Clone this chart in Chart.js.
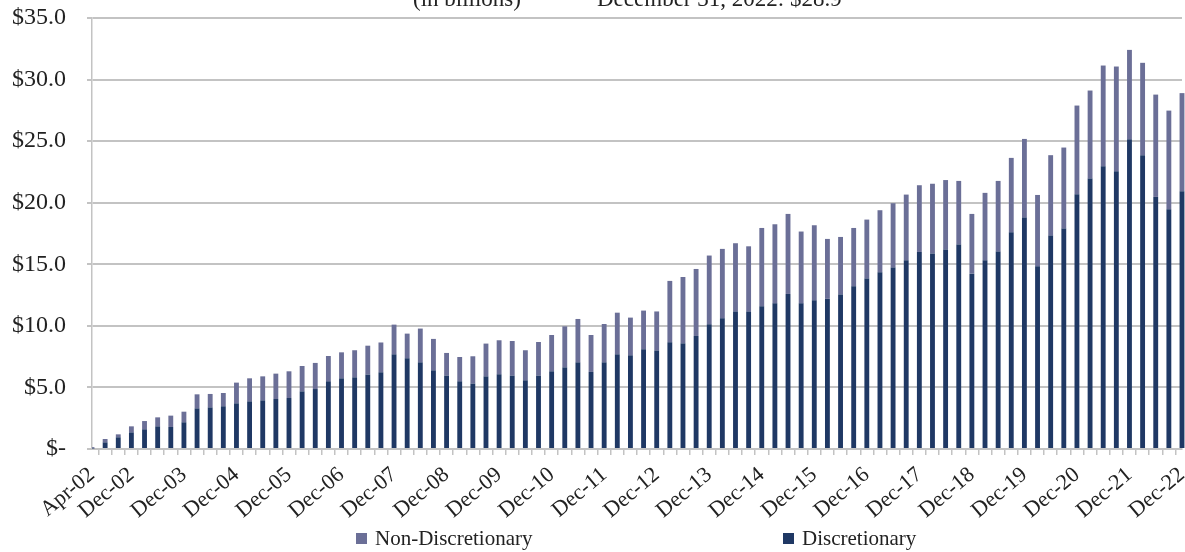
<!DOCTYPE html>
<html>
<head>
<meta charset="utf-8">
<script src="https://cdn.jsdelivr.net/npm/chart.js@4"></script>
<style>
  body { margin: 0; background: #fff; }
  #wrap { position: relative; width: 1185px; height: 552px; overflow: hidden; font-family: "Liberation Serif", serif; color: #222; }
  .hdr { position: absolute; top: -14px; font-size: 23px; white-space: nowrap; }
  .leg { position: absolute; top: 526px; font-size: 21px; white-space: nowrap; }
  .leg i { display: inline-block; width: 11px; height: 11px; margin-right: 8px; vertical-align: 1px; }
</style>
</head>
<body>
<div id="wrap">
  <canvas id="myChart" width="1185" height="552"></canvas>
  <span class="hdr" style="left:413px">(in billions)</span>
  <span class="hdr" style="left:597px">December 31, 2022: $28.9</span>
  <div class="leg" style="left:356px"><i style="background:#6b6f97"></i>Non-Discretionary</div>
  <div class="leg" style="left:783px"><i style="background:#1f3864"></i>Discretionary</div>
</div>
<script>
// quarter labels, Apr-02 .. Dec-22
var months = ['Mar', 'Jun', 'Sep', 'Dec'];
var labels = ['Apr-02', 'Jun-02', 'Sep-02', 'Dec-02'];
for (var yr = 3; yr <= 22; yr++) {
    months.forEach(m => labels.push(m + '-' + String(yr).padStart(2, '0')));
}

// $ billions
var discretionary = [
    0.05, 0.54, 0.95, 1.35, 1.60, 1.84, 1.79, 2.17, 3.30, 3.38,
    3.47, 3.71, 3.87, 3.95, 4.06, 4.14, 4.68, 4.87, 5.50, 5.74,
    5.82, 6.04, 6.23, 7.69, 7.37, 7.04, 6.39, 5.96, 5.50, 5.31,
    5.90, 6.07, 5.96, 5.58, 5.96, 6.31, 6.63, 7.04, 6.26, 7.04,
    7.69, 7.61, 8.10, 8.00, 8.67, 8.58, 9.18, 10.13, 10.61, 11.16,
    11.16, 11.59, 11.83, 12.59, 11.83, 12.08, 12.19, 12.54, 13.21, 13.84,
    14.35, 14.73, 15.33, 16.00, 15.88, 16.20, 16.60, 14.24, 15.33, 16.03,
    17.60, 18.79, 14.84, 17.33, 17.90, 20.69, 21.96, 22.96, 22.56, 25.16,
    23.86, 20.47, 19.47, 20.93
];
var nonDiscretionary = [
    0.10, 0.27, 0.24, 0.49, 0.67, 0.73, 0.92, 0.86, 1.14, 1.09,
    1.08, 1.68, 1.87, 1.95, 2.06, 2.17, 2.06, 2.12, 2.05, 2.11,
    2.20, 2.35, 2.42, 2.41, 2.00, 2.74, 2.55, 1.84, 1.97, 2.22,
    2.66, 2.76, 2.81, 2.44, 2.73, 2.95, 3.33, 3.52, 3.00, 3.11,
    3.38, 3.06, 3.14, 3.17, 4.98, 5.39, 5.44, 5.58, 5.64, 5.55,
    5.30, 6.36, 6.42, 6.50, 5.83, 6.09, 4.87, 4.68, 4.74, 4.79,
    5.04, 5.23, 5.33, 5.42, 5.66, 5.64, 5.17, 4.85, 5.47, 5.74,
    6.04, 6.39, 5.79, 6.53, 6.58, 7.20, 7.15, 8.18, 8.50, 7.25,
    7.50, 8.31, 8.01, 7.97
];

var gris = '#c3c3c3';
var ctx = document.getElementById('myChart').getContext('2d');
var myChart = new Chart(ctx, {
    type: 'bar',
    data: {
        labels: labels,
        datasets: [{
            label: 'Discretionary',
            data: discretionary,
            backgroundColor: '#1f3864',
            barPercentage: 0.37,
            categoryPercentage: 1,
            clip: {left: 0, top: 0, right: false, bottom: 0}
        }, {
            label: 'Non-Discretionary',
            data: nonDiscretionary,
            backgroundColor: '#6b6f97',
            barPercentage: 0.37,
            categoryPercentage: 1,
            clip: {left: 0, top: 0, right: false, bottom: 0}
        }]
    },
    options: {
        responsive: false,
        animation: false,
        layout: { padding: { top: 18, right: 3, left: 0, bottom: 0 } },
        plugins: { legend: { display: false }, tooltip: { enabled: false } },
        scales: {
            x: {
                stacked: true,
                offset: false,
                grid: { display: true, drawOnChartArea: false, drawTicks: true, tickLength: 6, color: gris, lineWidth: 1.5 },
                border: { color: gris, width: 2 },
                ticks: {
                    autoSkip: false,
                    minRotation: 40,
                    maxRotation: 40,
                    padding: 7,
                    color: '#222',
                    font: { family: 'Liberation Serif', size: 22 },
                    callback: function (v, i) {
                        var l = labels[i];
                        return (i === 0 || l.startsWith('Dec')) ? l : '';
                    }
                },
                afterFit: function (s) {
                    s.height = 103;
                    s.paddingLeft = 0;
                    s.paddingRight = 0;
                }
            },
            y: {
                stacked: true,
                min: 0,
                max: 35,
                grid: { color: gris, lineWidth: 2, tickLength: 5 },
                border: { color: gris, width: 1.5 },
                ticks: {
                    stepSize: 5,
                    padding: 21,
                    color: '#222',
                    font: { family: 'Liberation Serif', size: 24 },
                    callback: function (v) { return v === 0 ? '$-' : '$' + v.toFixed(1); }
                },
                afterFit: function (s) {
                    s.width = 92;
                    s.paddingTop = 0;
                    s.paddingBottom = 0;
                }
            }
        }
    }
});
</script>
</body>
</html>
